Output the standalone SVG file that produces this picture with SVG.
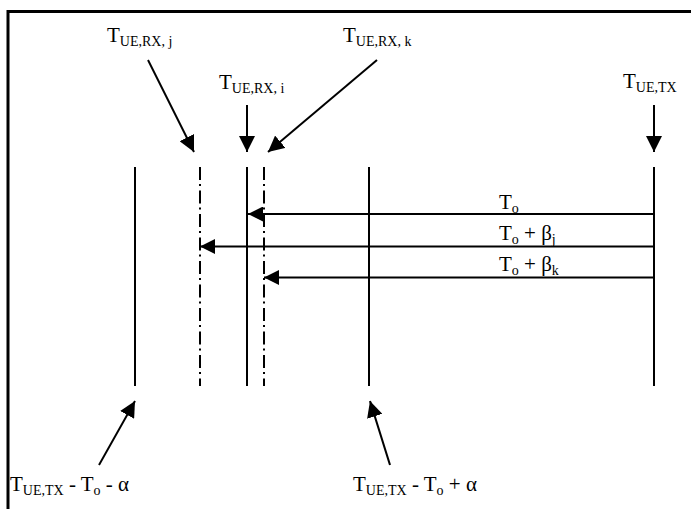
<svg xmlns="http://www.w3.org/2000/svg" width="691" height="509" viewBox="0 0 691 509">
<style>
text{font-family:"Liberation Serif","Times New Roman",serif;font-size:21px;fill:#000}
.s{font-size:14px}
.ln{stroke:#000;stroke-width:2;fill:none}
.dd{stroke:#000;stroke-width:2;fill:none;stroke-dasharray:13 4 2 4.5}
.ar{stroke:#000;stroke-width:2;fill:none}
</style>
<defs>
<marker id="ah" viewBox="0 0 16 16" markerWidth="16" markerHeight="16" refX="16" refY="8" markerUnits="userSpaceOnUse" orient="auto">
<path d="M0,0 L16,8 L0,16 z" fill="#000"/>
</marker>
<marker id="ah2" viewBox="0 0 15 15" markerWidth="15" markerHeight="15" refX="15" refY="7.5" markerUnits="userSpaceOnUse" orient="auto">
<path d="M0,0 L15,7.5 L0,15 z" fill="#000"/>
</marker>
</defs>
<rect width="691" height="509" fill="#fff"/>
<path d="M6.5,11.5 H691 M8,10 V509" stroke="#000" stroke-width="3" fill="none"/>

<g id="timelines">
<line id="t-minus" class="ln" x1="135" y1="167" x2="135" y2="386"/>
<line id="t-rx-j" class="dd" x1="200" y1="167" x2="200" y2="386"/>
<line id="t-rx-i" class="ln" x1="247" y1="167" x2="247" y2="386"/>
<line id="t-rx-k" class="dd" x1="264" y1="167" x2="264" y2="386"/>
<line id="t-plus" class="ln" x1="369" y1="167" x2="369" y2="386"/>
<line id="t-tx" class="ln" x1="654" y1="167" x2="654" y2="386"/>
</g>

<g id="connectors">
<line class="ar" x1="148" y1="60" x2="194" y2="152" marker-end="url(#ah)"/>
<line class="ar" x1="247" y1="105" x2="247" y2="152" marker-end="url(#ah)"/>
<line class="ar" x1="377" y1="60" x2="268" y2="152" marker-end="url(#ah)"/>
<line class="ar" x1="654" y1="105" x2="654" y2="152" marker-end="url(#ah)"/>
<line class="ar" x1="99" y1="465" x2="135" y2="401" marker-end="url(#ah)"/>
<line class="ar" x1="390" y1="465" x2="370" y2="401" marker-end="url(#ah)"/>
<line class="ar" x1="654" y1="214" x2="248" y2="214" marker-end="url(#ah2)"/>
<line class="ar" x1="654" y1="246.5" x2="200" y2="246.5" marker-end="url(#ah2)"/>
<line class="ar" x1="654" y1="277.5" x2="264" y2="277.5" marker-end="url(#ah2)"/>
</g>

<g id="label-rx-j"><text x="107" y="42">T<tspan class="s" dy="4">UE,RX, j</tspan></text></g>
<g id="label-rx-k"><text x="343" y="42">T<tspan class="s" dy="4">UE,RX, k</tspan></text></g>
<g id="label-rx-i"><text x="219" y="89">T<tspan class="s" dy="4">UE,RX, i</tspan></text></g>
<g id="label-tx"><text x="623" y="88">T<tspan class="s" dy="4">UE,TX</tspan></text></g>
<g id="label-minus"><text x="10" y="491">T<tspan class="s" dy="4">UE,TX</tspan><tspan dy="-4"> - T</tspan><tspan class="s" dy="4">o</tspan><tspan dy="-4"> - α</tspan></text></g>
<g id="label-plus"><text x="353" y="491">T<tspan class="s" dy="4">UE,TX</tspan><tspan dy="-4"> - T</tspan><tspan class="s" dy="4">o</tspan><tspan dy="-4"> + α</tspan></text></g>
<g id="label-to"><text x="499" y="209">T<tspan class="s" dy="4">o</tspan></text></g>
<g id="label-to-bj"><text x="499" y="240">T<tspan class="s" dy="4">o</tspan><tspan dy="-4"> + β</tspan><tspan class="s" dy="4">j</tspan></text></g>
<g id="label-to-bk"><text x="499" y="271">T<tspan class="s" dy="4">o</tspan><tspan dy="-4"> + β</tspan><tspan class="s" dy="4">k</tspan></text></g>
</svg>
